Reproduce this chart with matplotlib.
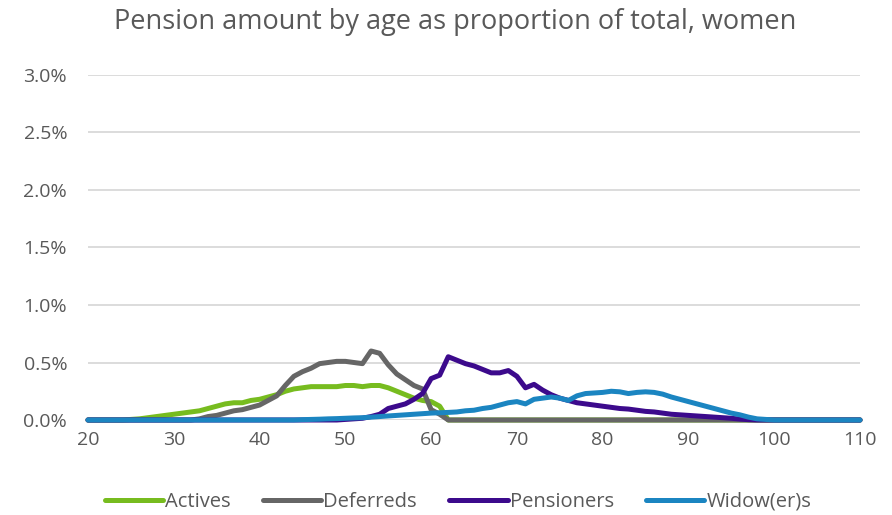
import numpy as np
import matplotlib
matplotlib.use("Agg")
import matplotlib.pyplot as plt
from matplotlib.ticker import FuncFormatter

# ages 20..110, values in percent of total pension amount
ages = list(range(20, 111))

actives = ([0.0] * 5 +
           [0.005, 0.01, 0.02, 0.03, 0.04, 0.05, 0.06, 0.07, 0.08, 0.10,
            0.12, 0.14, 0.15, 0.15, 0.17, 0.18, 0.20, 0.22, 0.25, 0.27,
            0.28, 0.29, 0.29, 0.29, 0.29, 0.30, 0.30, 0.29, 0.30, 0.30,
            0.28, 0.25, 0.22, 0.19, 0.17, 0.16, 0.12] +
           [0.0] * 49)

deferreds = ([0.0] * 13 +
             [0.01, 0.03, 0.04, 0.06, 0.08, 0.09, 0.11, 0.13, 0.17, 0.21,
              0.30, 0.38, 0.42, 0.45, 0.49, 0.50, 0.51, 0.51, 0.50, 0.49,
              0.60, 0.58, 0.48, 0.40, 0.35, 0.30, 0.27, 0.09, 0.05] +
             [0.0] * 49)

pensioners = ([0.0] * 30 +
              [0.005, 0.01, 0.015, 0.03, 0.05, 0.10, 0.12, 0.14, 0.18, 0.23,
               0.36, 0.39, 0.55, 0.52, 0.49, 0.47, 0.44, 0.41, 0.41, 0.43,
               0.38, 0.28, 0.31, 0.26, 0.22, 0.19, 0.17, 0.15, 0.14, 0.13,
               0.12, 0.11, 0.10, 0.095, 0.085, 0.075, 0.07, 0.06, 0.05, 0.045,
               0.04, 0.035, 0.03, 0.025, 0.02, 0.015, 0.008, 0.003] +
              [0.0] * 13)

widows = ([0.0] * 25 +
          [0.003, 0.005, 0.007, 0.01, 0.012, 0.015, 0.018, 0.02, 0.025, 0.03,
           0.035, 0.04, 0.045, 0.05, 0.055, 0.06, 0.063, 0.066, 0.07, 0.08,
           0.085, 0.10, 0.11, 0.13, 0.15, 0.16, 0.14, 0.18, 0.19, 0.20,
           0.19, 0.17, 0.21, 0.23, 0.235, 0.24, 0.25, 0.245, 0.23, 0.24,
           0.245, 0.24, 0.225, 0.20, 0.18, 0.16, 0.14, 0.12, 0.10, 0.08,
           0.06, 0.045, 0.025, 0.01, 0.005] +
          [0.0] * 11)

series = [
    ("Actives", actives, "#77bc1f"),
    ("Deferreds", deferreds, "#666666"),
    ("Pensioners", pensioners, "#3c0a8c"),
    ("Widow(er)s", widows, "#1b85c1"),
]

plt.rcParams['font.family'] = ['Open Sans', 'DejaVu Sans']
text_col = "#595959"

fig = plt.figure(figsize=(8.92, 5.15), dpi=100)
ax = fig.add_axes([88 / 892, 1 - 420 / 515, (860 - 88) / 892, (420 - 75) / 515])

for name, vals, col in series:
    ax.plot(ages, vals, color=col, lw=3.6, label=name, solid_capstyle="round",
            solid_joinstyle="round", clip_on=False)

ax.set_xlim(20, 110)
ax.set_ylim(0, 3.0)
ax.set_xticks(np.arange(20, 111, 10))
ax.set_yticks(np.arange(0, 3.01, 0.5))
ax.yaxis.set_major_formatter(FuncFormatter(lambda v, p: "%.1f%%" % v))

ax.grid(axis="y", color="#d9d9d9", lw=1.3)
ax.set_axisbelow(True)
for s in ax.spines.values():
    s.set_visible(False)
ax.tick_params(length=0, labelsize=14, colors=text_col)
ax.tick_params(axis="y", pad=15)
ax.tick_params(axis="x", pad=8)

fig.text(455 / 892, 1 - 22 / 515,
         "Pension amount by age as proportion of total, women",
         fontsize=19.5, color=text_col, ha="center", va="center")

fig.legend(loc="center", bbox_to_anchor=(458 / 892, 1 - 502 / 515), ncol=4,
           frameon=False, fontsize=14.5, labelcolor=text_col, handlelength=2.9,
           handletextpad=0.1, columnspacing=1.6)

fig.savefig("out.png", dpi=100)
